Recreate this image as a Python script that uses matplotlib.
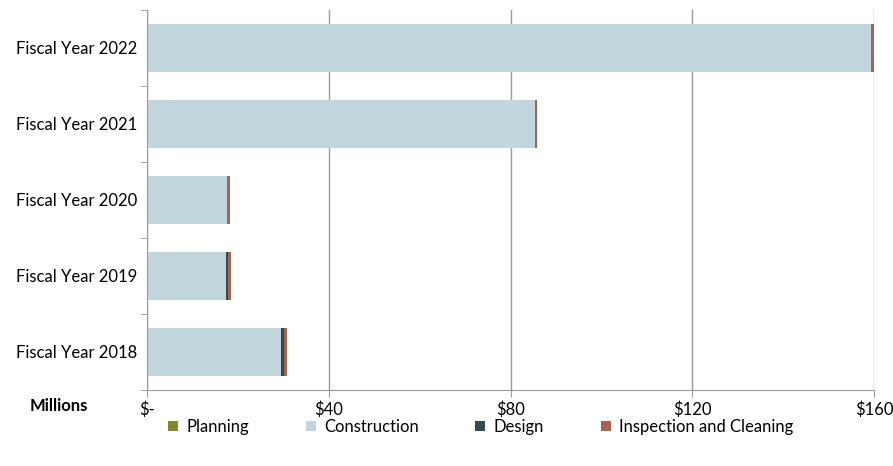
import numpy as np
import matplotlib.pyplot as plt

plt.rcParams['font.family'] = ['Lato', 'DejaVu Sans']

# data (millions of dollars)
years = ["Fiscal Year 2018", "Fiscal Year 2019", "Fiscal Year 2020",
         "Fiscal Year 2021", "Fiscal Year 2022"]
planning = [0.0, 0.0, 0.0, 0.0, 0.0]
construction = [29.4, 17.4, 17.5, 85.3, 159.4]
design = [0.7, 0.4, 0.1, 0.0, 0.0]
inspection = [0.7, 0.6, 0.6, 0.5, 0.6]

series = [("Planning", planning, "#7f8a2a"),
          ("Construction", construction, "#c1d6dc"),
          ("Design", design, "#2e4d55"),
          ("Inspection and Cleaning", inspection, "#a7634e")]

fig = plt.figure(figsize=(8.93, 4.66), dpi=100)
ax = fig.add_axes([147/893, 76/466, 727/893, 380/466])

y = np.arange(len(years))
left = np.zeros(len(years))
for name, vals, col in series:
    ax.barh(y, vals, left=left, height=0.63, color=col, label=name, zorder=2)
    left += np.array(vals)

ax.set_xlim(0, 160)
ax.set_ylim(-0.5, len(years) - 0.5)
ax.set_xticks([0, 40, 80, 120, 160])
ax.set_xticklabels(["$-", "$40", "$80", "$120", "$160"], fontsize=12)
ax.set_yticks(y)
ax.set_yticklabels(years, fontsize=12)
ax.set_yticks(np.arange(-0.5, len(years)), minor=True)
ax.tick_params(axis='y', which='major', length=0, pad=7)
ax.tick_params(axis='y', which='minor', length=5, color='#999999')
ax.tick_params(axis='x', length=5, color='#999999', pad=3)
ax.grid(axis='x', color='#999999', linewidth=1, zorder=0)

for s in ['top', 'right']:
    ax.spines[s].set_visible(False)
for s in ['left', 'bottom']:
    ax.spines[s].set_color('#999999')

fig.text(30/893, 1 - 406/466, "Millions", fontsize=12, fontweight='bold',
         ha='left', va='center')

fig.legend(loc='center left', bbox_to_anchor=(168/893, 1 - 427/466), ncol=4,
           frameon=False, fontsize=12, handlelength=0.6, handleheight=0.6,
           handletextpad=0.5, columnspacing=3.4, borderpad=0, borderaxespad=0)

fig.savefig("out.png", dpi=100)
